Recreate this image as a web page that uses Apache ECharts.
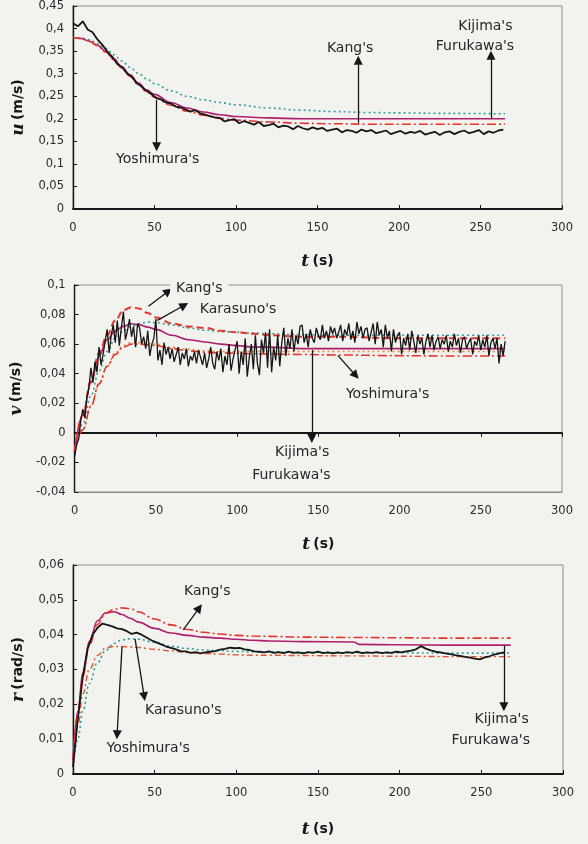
<!DOCTYPE html>
<html>
<head>
<meta charset="utf-8">
<script src="https://cdn.jsdelivr.net/npm/echarts@6/dist/echarts.min.js"></script>
<style>
html, body { margin: 0; padding: 0; background: #f2f2ee; }
#main { width: 588px; height: 844px; }
</style>
</head>
<body>
<div id="main"></div>
<script>
// sampling step of the measured records (s)
var stepU = 3, stepV = 1.25, stepR = 3;

// ---- surge velocity u (m/s) ----
var uMeas = [
  0.412,0.405,0.416,0.398,0.392,0.376,0.364,0.349,0.338,0.322,
  0.315,0.301,0.294,0.279,0.272,0.262,0.255,0.246,0.243,0.236,
  0.234,0.227,0.225,0.221,0.216,0.219,0.212,0.209,0.206,0.203,
  0.202,0.194,0.197,0.199,0.190,0.195,0.191,0.187,0.193,0.184,
  0.186,0.189,0.181,0.185,0.183,0.177,0.184,0.179,0.176,0.181,
  0.177,0.180,0.173,0.176,0.178,0.170,0.175,0.173,0.169,0.176,
  0.172,0.175,0.168,0.171,0.174,0.166,0.170,0.173,0.167,0.171,
  0.169,0.173,0.165,0.168,0.171,0.164,0.170,0.172,0.166,0.171,
  0.174,0.168,0.171,0.175,0.166,0.172,0.169,0.174,0.176
];
var uModelT = [0,5,10,15,20,25,30,35,40,45,50,60,70,80,90,100,120,140,160,180,200,230,265];
var uTeal    = [0.38,0.379,0.375,0.367,0.356,0.342,0.328,0.314,0.301,0.289,0.278,0.262,0.250,0.242,0.236,0.231,0.224,0.219,0.216,0.214,0.213,0.212,0.211];
var uMagenta = [0.38,0.378,0.372,0.363,0.350,0.333,0.315,0.297,0.280,0.264,0.254,0.236,0.224,0.215,0.209,0.205,0.202,0.200,0.200,0.200,0.200,0.200,0.200];
var uRed     = [0.38,0.378,0.372,0.362,0.348,0.331,0.312,0.294,0.277,0.260,0.248,0.230,0.217,0.208,0.201,0.197,0.193,0.190,0.189,0.188,0.188,0.188,0.188];
var uArrows = [[[51.3,0.242],[51.3,0.138]], [[175,0.191],[175,0.33]], [[256.4,0.201],[256.4,0.341]]];
var uNotes = [[52,0.109,"Yoshimura's"], [170,0.357,"Kang's"], [253,0.404,"Kijima's"], [246.6,0.36,"Furukawa's"]];

// ---- sway velocity v (m/s) ----
var vMeas = [
  -0.016,-0.008,-0.004,0.008,0.016,0.010,0.024,0.030,0.044,0.034,0.048,0.041,0.058,0.046,0.053,0.062,
  0.070,0.054,0.066,0.073,0.061,0.076,0.059,0.071,0.082,0.063,0.069,0.077,0.065,0.072,0.058,0.074,
  0.071,0.060,0.065,0.057,0.069,0.052,0.060,0.064,0.077,0.049,0.056,0.046,0.061,0.053,0.058,0.050,
  0.057,0.048,0.053,0.058,0.046,0.054,0.050,0.057,0.045,0.052,0.049,0.055,0.047,0.056,0.051,0.046,
  0.054,0.044,0.050,0.058,0.047,0.043,0.055,0.049,0.057,0.041,0.052,0.046,0.060,0.042,0.050,0.056,
  0.062,0.040,0.055,0.046,0.064,0.038,0.051,0.060,0.043,0.066,0.047,0.039,0.063,0.054,0.068,0.044,
  0.070,0.041,0.058,0.049,0.066,0.045,0.061,0.071,0.052,0.064,0.057,0.070,0.055,0.066,0.060,0.072,
  0.073,0.061,0.067,0.058,0.070,0.064,0.061,0.071,0.066,0.063,0.073,0.064,0.069,0.062,0.072,0.067,
  0.071,0.064,0.068,0.073,0.062,0.070,0.066,0.074,0.063,0.069,0.061,0.075,0.067,0.072,0.064,0.070,
  0.071,0.062,0.068,0.074,0.060,0.075,0.066,0.070,0.058,0.073,0.064,0.069,0.055,0.070,0.061,0.066,
  0.068,0.053,0.064,0.059,0.067,0.056,0.069,0.062,0.054,0.066,0.060,0.064,0.053,0.062,0.067,0.058,
  0.066,0.056,0.062,0.065,0.057,0.063,0.060,0.066,0.055,0.062,0.058,0.067,0.059,0.064,0.054,0.063,
  0.065,0.057,0.061,0.064,0.053,0.062,0.059,0.066,0.056,0.063,0.058,0.066,0.052,0.061,0.064,0.057,
  0.064,0.047,0.060,0.052,0.062
];
var vModelT   = [0,5,10,15,20,25,30,35,40,45,50,60,70,80,90,100,110,120,140,160,200,230,265];
var vRedDash  = [-0.012,0.012,0.035,0.054,0.066,0.076,0.083,0.085,0.084,0.081,0.078,0.074,0.072,0.071,0.069,0.068,0.067,0.066,0.065,0.065,0.064,0.064,0.064];
var vTeal     = [-0.012,0.006,0.025,0.042,0.055,0.064,0.069,0.072,0.074,0.075,0.0745,0.073,0.071,0.0695,0.0685,0.068,0.0675,0.067,0.0665,0.066,0.066,0.066,0.066];
var vMagenta  = [-0.012,0.012,0.034,0.052,0.063,0.069,0.072,0.0738,0.073,0.0715,0.070,0.066,0.063,0.0615,0.060,0.059,0.058,0.058,0.057,0.057,0.057,0.057,0.057];
var vOrange   = [-0.012,0.002,0.018,0.033,0.045,0.054,0.059,0.061,0.061,0.0605,0.060,0.058,0.0565,0.0555,0.055,0.055,0.055,0.055,0.055,0.055,0.055,0.055,0.055];
var vRedDot   = [-0.012,0.002,0.018,0.033,0.045,0.053,0.058,0.060,0.060,0.0595,0.059,0.057,0.0555,0.0545,0.054,0.0538,0.0535,0.0533,0.053,0.0527,0.0522,0.052,0.052];
var vArrows = [[[45.4,0.0856],[57.7,0.0958]], [[50.9,0.0761],[67.5,0.0863]], [[146,0.056],[146,-0.0039]], [[162,0.0524],[173,0.0388]]];
var vNotes = [[76.7,0.0977,"Kang's",true], [100.6,0.0836,"Karasuno's"], [140,-0.0133,"Kijima's"], [133.4,-0.029,"Furukawa's"], [192.6,0.026,"Yoshimura's"]];

// ---- yaw rate r (rad/s) ----
var rMeas = [
  0.002,0.016,0.028,0.036,0.040,0.042,0.0432,0.0428,0.0424,0.0418,
  0.0416,0.041,0.0402,0.0406,0.040,0.0392,0.0384,0.0378,0.0372,0.0366,
  0.0362,0.0358,0.0353,0.0352,0.0348,0.035,0.0346,0.0349,0.0351,0.0353,
  0.0357,0.0359,0.0363,0.0361,0.0362,0.0358,0.0356,0.0352,0.0351,0.0349,
  0.0352,0.0348,0.035,0.0347,0.0351,0.0348,0.0349,0.0346,0.035,0.0348,
  0.0351,0.0347,0.0349,0.0346,0.0349,0.0347,0.035,0.0348,0.0351,0.0347,
  0.0349,0.0348,0.035,0.0347,0.0349,0.0348,0.0351,0.0349,0.0352,0.0354,
  0.0358,0.0367,0.036,0.0355,0.0351,0.0349,0.0346,0.0344,0.0341,0.0339,
  0.0336,0.0334,0.0331,0.0329,0.0335,0.0338,0.0343,0.0346,0.0349
];
var rModelT  = [0,3,6,10,15,20,25,30,35,40,50,60,70,80,90,100,110,120,140,172,175,200,230,268];
var rMagenta = [0.004,0.018,0.029,0.038,0.044,0.0462,0.0466,0.0458,0.0447,0.0436,0.0418,0.0405,0.0398,0.0393,0.039,0.0387,0.0384,0.0382,0.038,0.0379,0.0372,0.0371,0.037,0.037];
var rKang    = [0.004,0.017,0.028,0.037,0.043,0.0462,0.0473,0.0477,0.0475,0.0466,0.0445,0.0428,0.0415,0.0407,0.0402,0.0398,0.0396,0.0395,0.0393,0.0392,0.0392,0.0391,0.039,0.039];
var rTeal    = [0.002,0.010,0.018,0.026,0.032,0.0355,0.0375,0.0385,0.0388,0.0387,0.0378,0.0367,0.036,0.0356,0.0354,0.0352,0.0351,0.035,0.0349,0.0348,0.0348,0.0348,0.0347,0.0347];
var rOrange  = [0.003,0.014,0.023,0.030,0.034,0.0362,0.0366,0.0366,0.0365,0.0363,0.0358,0.0353,0.0349,0.0346,0.0344,0.0342,0.0341,0.0341,0.034,0.0339,0.0339,0.0338,0.0337,0.0337];
var rArrows = [[[67.5,0.0414],[77.3,0.0477]], [[38,0.0388],[43.6,0.0222]], [[30,0.0365],[27,0.0113]], [[263.8,0.0368],[263.8,0.0193]]];
var rNotes = [[82.2,0.0523,"Kang's"], [67.5,0.0184,"Karasuno's"], [46,0.0073,"Yoshimura's"], [262.4,0.0156,"Kijima's"], [255.8,0.0098,"Furukawa's"]];

var paper = '#f2f2ee';
var ink = '#161616';
var fontFam = 'DejaVu Sans';

function pairs(ts, vs) {
  var a = [];
  for (var i = 0; i < vs.length; i++) a.push([ts[i], vs[i]]);
  return a;
}
function sampled(dt, vs) {
  var a = [];
  for (var i = 0; i < vs.length; i++) a.push([i * dt, vs[i]]);
  return a;
}
function comma(v) { return String(+v.toFixed(3)).replace('.', ','); }

function arrowMarks(list) {
  return {
    silent: true, symbol: ['none', 'triangle'], symbolSize: 9,
    label: { show: false }, emphasis: { disabled: true },
    lineStyle: { color: ink, width: 1.3, type: 'solid' },
    itemStyle: { color: ink },
    data: list.map(function (a) { return [{ coord: a[0] }, { coord: a[1] }]; })
  };
}
function noteMarks(list) {
  return {
    silent: true, symbol: 'rect', symbolSize: 1,
    itemStyle: { color: 'rgba(0,0,0,0)' },
    label: { show: true, position: 'inside', formatter: '{b}', color: '#262626', fontSize: 14, fontFamily: fontFam },
    data: list.map(function (n) {
      var d = { name: n[2], coord: [n[0], n[1]] };
      if (n[3]) d.label = { backgroundColor: paper, padding: [1, 6] };
      return d;
    })
  };
}

function model(name, data, ax, color, type, width) {
  return {
    name: name, type: 'line', xAxisIndex: ax[0], yAxisIndex: ax[1], data: data,
    smooth: 0.4, smoothMonotone: 'x', symbol: 'none',
    lineStyle: { color: color, type: type, width: width }, z: 2
  };
}
function measured(data, ax, width, arrows, notes) {
  return {
    name: 'measured', type: 'line', xAxisIndex: ax[0], yAxisIndex: ax[1], data: data,
    symbol: 'none', lineStyle: { color: ink, width: width }, z: 3,
    markLine: arrowMarks(arrows), markPoint: noteMarks(notes)
  };
}

var tName = {
  name: '{i|t} {n|(s)}', nameLocation: 'middle', nameGap: 44,
  nameTextStyle: { rich: {
    i: { fontFamily: 'DejaVu Serif', fontStyle: 'italic', fontWeight: 'bold', fontSize: 17, color: ink },
    n: { fontFamily: fontFam, fontWeight: 'bold', fontSize: 14, color: ink }
  } }
};
function xAxis(grid, opts) {
  var base = {
    type: 'value', gridIndex: grid, min: 0, max: 300, interval: 50,
    splitLine: { show: false },
    axisLine: { onZero: false, lineStyle: { color: ink, width: 1.8 } },
    axisTick: { inside: true, length: 4, lineStyle: { color: ink } },
    axisLabel: { margin: 13, fontSize: 11.5, fontFamily: fontFam, color: '#2a2a2a' }
  };
  for (var k in tName) base[k] = tName[k];
  for (var k2 in opts) base[k2] = opts[k2];
  return base;
}
function yAxis(grid, min, max, step, letter, unit, gap) {
  return {
    type: 'value', gridIndex: grid, min: min, max: max, interval: step,
    splitLine: { show: false },
    axisLine: { lineStyle: { color: ink, width: 1.4 } },
    axisTick: { inside: true, length: 4, lineStyle: { color: ink } },
    axisLabel: { margin: 9, fontSize: 11.5, fontFamily: fontFam, color: '#2a2a2a', formatter: comma },
    name: '{i|' + letter + '} {n|(' + unit + ')}', nameLocation: 'middle', nameGap: gap,
    nameTextStyle: { rich: {
      i: { fontFamily: 'DejaVu Serif', fontStyle: 'italic', fontWeight: 'bold', fontSize: 17, color: ink },
      n: { fontFamily: fontFam, fontWeight: 'bold', fontSize: 14, color: ink }
    } }
  };
}

var chart = echarts.init(document.getElementById('main'));
var gridBox = { show: true, borderColor: '#8c8c8c', borderWidth: 1, containLabel: false };

var option = {
  backgroundColor: paper,
  animation: false,
  grid: [
    Object.assign({ left: 73, top: 6, width: 489, height: 203 }, gridBox),
    Object.assign({ left: 73, top: 285, width: 489, height: 207 }, gridBox),
    Object.assign({ left: 73, top: 565, width: 490, height: 209 }, gridBox)
  ],
  xAxis: [
    xAxis(0, {}),
    xAxis(1, { axisLine: { onZero: false, lineStyle: { color: '#8c8c8c', width: 1 } }, axisTick: { show: false } }),
    xAxis(1, { name: '', axisLabel: { show: false }, axisLine: { onZero: true, lineStyle: { color: ink, width: 1.8 } } }),
    xAxis(2, { nameGap: 47 })
  ],
  yAxis: [
    yAxis(0, 0, 0.45, 0.05, 'u', 'm/s', 46),
    yAxis(1, -0.04, 0.1, 0.02, 'v', 'm/s', 46),
    yAxis(2, 0, 0.06, 0.01, 'r', 'rad/s', 46)
  ],
  series: [
    model('u teal', pairs(uModelT, uTeal), [0, 0], '#2f9f94', [2, 3], 1.6),
    model('u magenta', pairs(uModelT, uMagenta), [0, 0], '#b01f6e', 'solid', 1.6),
    model('u red', pairs(uModelT, uRed), [0, 0], '#e3342c', [9, 3, 2, 3], 1.6),
    measured(sampled(stepU, uMeas), [0, 0], 1.8, uArrows, uNotes),

    model('v orange', pairs(vModelT, vOrange), [2, 1], '#e8893c', [2, 3], 1.6),
    model('v red dot', pairs(vModelT, vRedDot), [2, 1], '#e3342c', [9, 3, 2, 3], 1.6),
    model('v teal', pairs(vModelT, vTeal), [2, 1], '#2f9f94', [2, 3], 1.6),
    model('v magenta', pairs(vModelT, vMagenta), [2, 1], '#b01f6e', 'solid', 1.6),
    model('v red dash', pairs(vModelT, vRedDash), [2, 1], '#e3342c', [7, 4], 2),
    measured(sampled(stepV, vMeas), [2, 1], 1.3, vArrows, vNotes),

    model('r orange', pairs(rModelT, rOrange), [3, 2], '#e3552c', [6, 3, 2, 3], 1.4),
    model('r teal', pairs(rModelT, rTeal), [3, 2], '#2f9f94', [2, 3], 1.6),
    model('r magenta', pairs(rModelT, rMagenta), [3, 2], '#b01f6e', 'solid', 1.6),
    model('r kang', pairs(rModelT, rKang), [3, 2], '#e3342c', [9, 3, 2, 3], 1.6),
    measured(sampled(stepR, rMeas), [3, 2], 1.8, rArrows, rNotes)
  ]
};
chart.setOption(option);
</script>
</body>
</html>
